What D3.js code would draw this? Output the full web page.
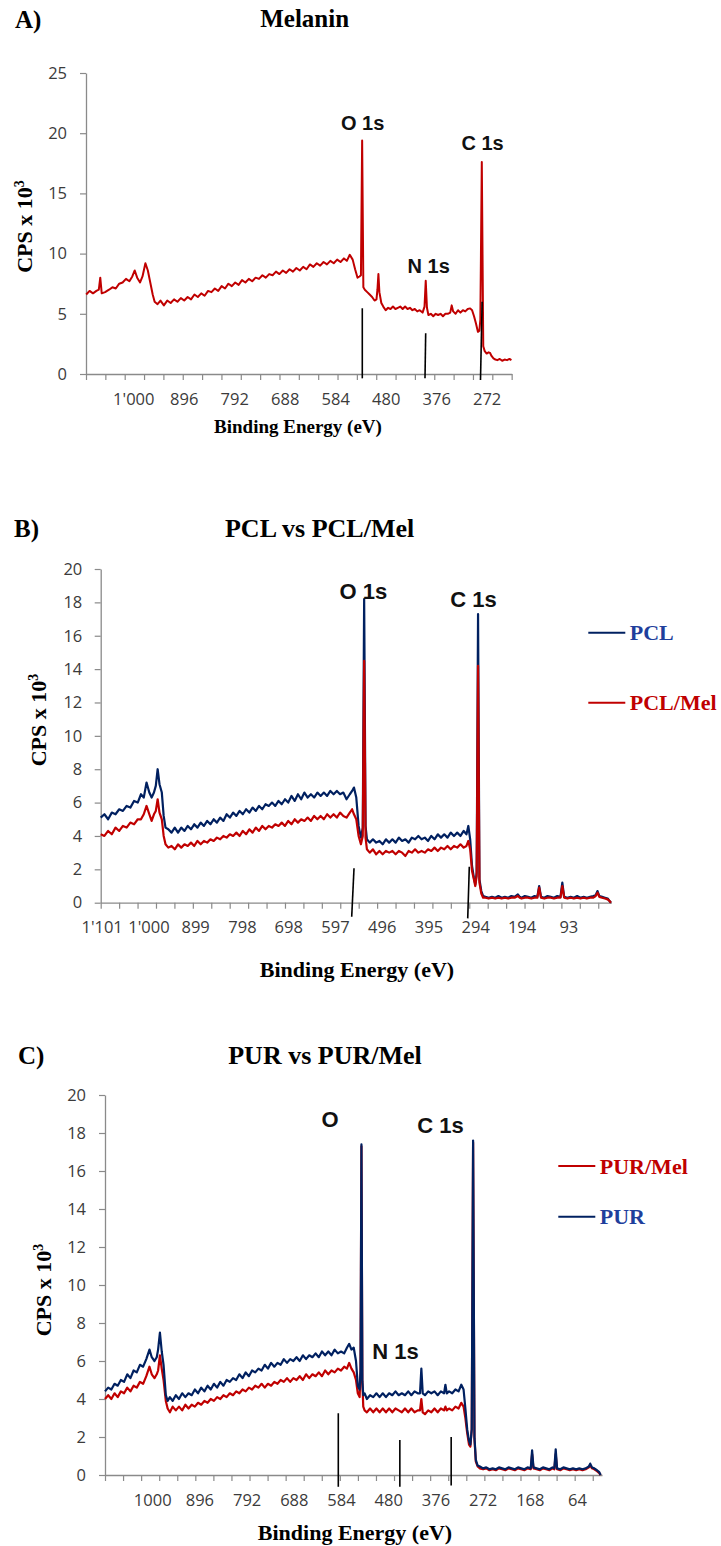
<!DOCTYPE html>
<html><head><meta charset="utf-8">
<script src="https://cdn.jsdelivr.net/npm/d3@7"></script>
<style>
body{margin:0;background:#fff;}
svg{display:block;}
</style></head><body>
<svg id="chart" width="721" height="1546"></svg>
<script>
// ---------------- DATA ----------------
// Panel A: Melanin survey spectrum (binding energy eV, CPS x 10^3)
const energyA = [
 1097,1090,1083,1076,1071,1068,1065,1058,1050,1043,
 1036,1029,1022,1015,1008,1002,997,992,986,981,
 975,970,965,960,956,950,944,937,930,923,
 916,909,902,895,888,881,874,867,860,853,
 846,839,832,825,818,811,804,797,790,783,
 776,769,762,755,748,741,734,727,720,713,
 706,699,692,685,678,671,664,657,650,643,
 636,629,622,615,608,601,594,587,580,573,
 566,560,554,548,543,538,534,531,528.5,526,
 523,518,513,508,503,499,497,495,493,489,
 485,480,475,470,465,460,455,450,445,440,
 435,430,425,420,415,410,404,400,397.5,395,
 392,387,382,377,372,367,362,357,352,347,
 344,341,336,331,326,321,316,311,306,302,
 298,294,290,287,285,282,279,276,272,268,
 265,262,258,254,250,245,240,235,230,225,
 221];
const melanin = [
 6.6,6.9,6.7,6.9,7.0,8.0,6.7,6.8,7.0,7.2,
 7.1,7.5,7.6,7.9,7.7,8.1,8.6,8.0,7.6,8.1,
 9.2,8.6,7.6,6.6,6.0,5.8,6.1,5.7,6.1,5.9,
 6.2,6.0,6.3,6.1,6.4,6.2,6.6,6.4,6.7,6.5,
 6.9,6.8,7.1,6.9,7.3,7.1,7.5,7.3,7.6,7.4,
 7.8,7.6,7.9,7.7,8.0,7.9,8.2,8.0,8.3,8.2,
 8.5,8.3,8.6,8.4,8.7,8.5,8.8,8.6,8.9,8.7,
 9.1,8.9,9.2,9.0,9.3,9.1,9.4,9.2,9.5,9.3,
 9.6,9.4,9.9,9.5,8.7,8.0,8.1,8.2,19.4,7.2,
 7.0,6.8,6.6,6.4,6.1,6.2,7.0,8.3,6.8,5.9,
 5.6,5.3,5.5,5.4,5.6,5.4,5.5,5.6,5.4,5.6,
 5.4,5.5,5.3,5.4,5.2,5.3,5.1,5.6,7.75,5.5,
 4.9,5.0,4.8,5.0,4.9,5.0,4.8,5.0,5.0,5.1,
 5.7,5.2,5.0,5.3,5.1,5.3,5.2,5.4,5.45,5.3,
 4.8,4.2,3.5,3.6,4.5,17.6,2.3,1.9,1.7,1.8,
 1.75,1.5,1.3,1.2,1.15,1.25,1.1,1.2,1.15,1.25,
 1.15];

// Panel B: PCL vs PCL/Mel
const energyB = [
 1103,1095,1087,1079,1071,1063,1055,1047,1039,1031,
 1023,1016,1010,1004,998,993,988,984,980,976,
 971,967,963,957,950,943,936,929,922,915,
 908,901,894,887,880,873,866,859,852,845,
 838,831,824,817,810,803,796,789,782,775,
 768,761,754,747,740,733,726,719,712,705,
 698,691,684,677,670,663,656,649,642,635,
 628,621,614,607,600,593,586,579,572,565,
 560,556,551,546,541,537,534,531,528,522,
 515,508,501,494,487,480,473,466,459,452,
 445,438,431,424,417,410,403,396,389,382,
 375,368,361,354,347,340,333,326,319,313,
 309,305,301,297,294,291,288,285,281,277,
 272,265,258,251,244,237,230,223,216,209,
 202,198,194,187,180,173,166,160,156,152,
 145,138,131,124,117,110,106,102,95,88,
 81,74,67,60,53,46,39,34,30,26,
 20,14,8,4,1];
const pcl = [
 5.1,5.3,5.0,5.4,5.3,5.6,5.5,5.8,5.7,6.1,
 6.0,6.5,6.3,7.2,6.6,6.3,6.6,7.0,8.0,7.1,
 6.6,5.2,4.5,4.4,4.2,4.5,4.2,4.5,4.3,4.6,
 4.4,4.7,4.5,4.8,4.6,4.9,4.7,5.0,4.8,5.1,
 4.9,5.3,5.1,5.4,5.2,5.5,5.3,5.6,5.4,5.7,
 5.5,5.8,5.6,5.9,5.8,6.0,5.8,6.1,5.9,6.2,
 6.0,6.4,6.1,6.5,6.2,6.6,6.3,6.5,6.3,6.6,
 6.4,6.6,6.4,6.7,6.5,6.7,6.5,6.6,6.2,6.5,
 6.7,6.9,6.3,4.6,3.9,4.5,18.2,4.6,3.8,3.6,
 3.8,3.6,3.7,3.5,3.8,3.6,3.8,3.6,3.9,3.7,
 3.8,3.6,3.9,3.8,4.0,3.8,3.9,3.7,4.0,3.8,
 4.1,3.9,4.1,3.9,4.2,4.0,4.2,4.0,4.3,4.1,
 4.6,3.8,2.2,1.5,1.1,1.8,17.3,1.4,0.7,0.4,
 0.35,0.3,0.35,0.3,0.4,0.3,0.35,0.3,0.4,0.35,
 0.5,0.35,0.3,0.4,0.35,0.3,0.4,0.35,1.0,0.35,
 0.3,0.4,0.35,0.3,0.4,0.35,1.2,0.35,0.3,0.35,
 0.3,0.4,0.3,0.35,0.3,0.35,0.4,0.45,0.7,0.4,
 0.35,0.3,0.25,0.1,0.0];
const pclMel = [
 4.1,4.0,4.3,4.1,4.5,4.3,4.6,4.5,4.8,4.7,
 5.0,5.0,5.3,5.8,5.3,4.9,5.3,5.5,6.2,5.4,
 5.0,4.0,3.5,3.3,3.4,3.2,3.5,3.3,3.5,3.4,
 3.6,3.4,3.7,3.5,3.7,3.6,3.8,3.7,3.9,3.8,
 4.0,3.9,4.1,4.0,4.2,4.0,4.3,4.1,4.4,4.2,
 4.5,4.3,4.6,4.4,4.6,4.5,4.7,4.6,4.8,4.6,
 4.9,4.7,5.0,4.8,5.0,4.9,5.1,4.9,5.2,5.0,
 5.2,5.0,5.3,5.1,5.3,5.1,5.4,5.2,5.1,5.4,
 5.6,5.3,5.0,4.0,3.5,4.0,14.5,3.9,3.2,3.0,
 3.2,2.9,3.1,2.9,3.1,3.0,3.1,2.9,3.1,3.0,
 2.8,3.1,3.0,3.2,3.0,3.1,3.0,3.2,3.1,3.3,
 3.1,3.3,3.2,3.4,3.2,3.4,3.3,3.5,3.3,3.4,
 3.7,3.2,1.9,1.4,1.0,1.6,14.2,1.2,0.55,0.3,
 0.3,0.25,0.3,0.25,0.3,0.25,0.3,0.25,0.3,0.3,
 0.4,0.3,0.25,0.3,0.3,0.25,0.3,0.3,0.9,0.3,
 0.25,0.3,0.3,0.25,0.3,0.3,1.0,0.3,0.25,0.3,
 0.25,0.3,0.25,0.3,0.25,0.3,0.3,0.4,0.6,0.35,
 0.3,0.25,0.2,0.1,0.0];

// Panel C: PUR vs PUR/Mel
const energyC = [
 1104,1097,1090,1083,1076,1069,1062,1055,1048,1041,
 1034,1027,1020,1013,1006,1001,995,990,987,983,
 979,975,970,966,961,955,948,941,934,927,
 920,913,906,899,892,885,878,871,864,857,
 850,843,836,829,822,815,808,801,794,787,
 780,773,766,759,752,745,738,731,724,717,
 710,703,696,689,682,675,668,661,654,647,
 640,633,626,619,612,605,598,591,584,577,
 571,566,561,556,551,547,543,541,539,537,
 535,532,527,520,513,506,499,492,485,478,
 471,464,457,450,443,436,429,422,415,410,
 407,404,399,392,385,378,371,364,357,354,
 351,346,339,332,325,319,314,310,306,302,
 299,296,293,290,287,283,278,271,264,257,
 250,243,236,229,222,215,208,201,194,187,
 180,173,166,163,160,153,146,139,132,125,
 118,114,111,108,101,94,87,80,73,66,
 59,52,45,38,35,31,26,20,15,12];
const pur = [
 4.4,4.6,4.5,4.8,4.7,5.0,4.9,5.3,5.1,5.5,
 5.4,5.8,5.7,6.1,6.6,6.2,6.0,6.2,6.6,7.5,
 6.5,5.8,4.2,3.9,4.1,3.9,4.2,4.0,4.3,4.1,
 4.3,4.2,4.5,4.3,4.6,4.4,4.7,4.5,4.8,4.6,
 4.9,4.7,5.0,4.9,5.1,5.0,5.3,5.1,5.4,5.2,
 5.5,5.4,5.6,5.5,5.8,5.6,5.9,5.7,5.9,5.8,
 6.1,5.9,6.1,6.0,6.2,6.0,6.3,6.1,6.3,6.2,
 6.4,6.2,6.5,6.3,6.5,6.3,6.6,6.4,6.5,6.4,
 6.7,6.9,6.6,6.7,6.0,4.7,4.5,5.5,17.4,5.0,
 4.2,4.3,4.0,4.2,4.1,4.3,4.1,4.3,4.1,4.3,
 4.2,4.4,4.2,4.3,4.2,4.4,4.2,4.4,4.3,4.3,
 5.6,4.3,4.2,4.4,4.3,4.4,4.2,4.4,4.3,4.75,
 4.3,4.4,4.3,4.5,4.4,4.75,4.5,3.5,2.4,1.8,
 1.6,2.4,17.6,2.0,0.8,0.5,0.45,0.35,0.4,0.3,
 0.35,0.3,0.4,0.35,0.3,0.4,0.35,0.3,0.4,0.35,
 0.3,0.4,0.35,1.3,0.4,0.35,0.3,0.4,0.35,0.3,
 0.4,0.35,1.35,0.35,0.3,0.4,0.35,0.3,0.35,0.3,
 0.35,0.3,0.35,0.45,0.6,0.4,0.35,0.25,0.15,0.0];
const purMel = [
 4.0,4.2,4.0,4.3,4.1,4.4,4.3,4.6,4.4,4.7,
 4.6,4.9,4.8,5.2,5.7,5.3,5.1,5.3,5.5,6.3,
 5.6,5.0,3.9,3.5,3.3,3.6,3.4,3.6,3.4,3.7,
 3.5,3.7,3.6,3.8,3.7,3.9,3.8,4.0,3.9,4.1,
 4.0,4.2,4.1,4.3,4.2,4.4,4.3,4.5,4.4,4.6,
 4.5,4.7,4.6,4.8,4.6,4.8,4.7,4.9,4.8,5.0,
 4.9,5.1,4.9,5.1,5.0,5.2,5.0,5.3,5.1,5.3,
 5.2,5.4,5.2,5.5,5.3,5.5,5.4,5.6,5.5,5.7,
 5.6,5.9,5.6,5.4,5.0,4.3,4.1,5.4,17.3,4.9,
 3.6,3.4,3.3,3.5,3.3,3.5,3.3,3.5,3.3,3.5,
 3.3,3.5,3.4,3.3,3.5,3.3,3.5,3.3,3.4,3.4,
 4.0,3.3,3.2,3.4,3.3,3.5,3.3,3.5,3.4,3.6,
 3.4,3.5,3.4,3.6,3.5,3.8,3.6,3.0,2.2,1.6,
 1.5,2.4,17.5,1.9,0.7,0.45,0.35,0.3,0.35,0.25,
 0.3,0.25,0.35,0.3,0.25,0.35,0.3,0.25,0.35,0.3,
 0.25,0.35,0.3,1.1,0.35,0.3,0.25,0.35,0.3,0.25,
 0.35,0.3,1.1,0.3,0.25,0.35,0.3,0.25,0.3,0.25,
 0.3,0.25,0.3,0.4,0.5,0.35,0.3,0.2,0.1,0.0];

// Axis tick labels
const xLabelsA = [1000, 896, 792, 688, 584, 480, 376, 272];
const xLabelsB = [1101, 1000, 899, 798, 698, 597, 496, 395, 294, 194, 93];
const xLabelsC = [1000, 896, 792, 688, 584, 480, 376, 272, 168, 64];
const yTicksA = [0, 5, 10, 15, 20, 25];
const yTicksB = [0, 2, 4, 6, 8, 10, 12, 14, 16, 18, 20];
const yTicksC = [0, 2, 4, 6, 8, 10, 12, 14, 16, 18, 20];

// Peak marker lines [E top, value top, E bottom, value bottom]
const markersA = [[528.2, 5.46, 528.2, -0.36], [397.6, 3.38, 399, -0.36], [281.3, 6.0, 284.7, -0.5]];
const markersB = [[555.9, 2.06, 560.9, -0.84], [306.9, 2.16, 310.3, -0.94]];
const markersC = [[590, 3.25, 590, -0.62], [454.4, 1.84, 454.4, -0.62], [341.3, 2.0, 341.3, -0.55]];

// Peak labels [text, E, value]
const peakLabelsA = [["O 1s", 527.5, 20.3], ["N 1s", 391.5, 8.35], ["C 1s", 280.5, 18.6]];
const peakLabelsB = [["O 1s", 535.5, 18.2], ["C 1s", 298, 17.75]];
const peakLabelsC = [["O", 608, 18.3], ["C 1s", 365, 18.0], ["N 1s", 464, 6.1]];

// ---------------- RENDER ----------------
[["A", energyA, melanin], ["B pcl", energyB, pcl], ["B mel", energyB, pclMel],
 ["C pur", energyC, pur], ["C mel", energyC, purMel]].forEach(([n, e, v]) => {
  if (e.length !== v.length) throw new Error(n + " length mismatch " + e.length + " vs " + v.length);
});

const svg = d3.select("#chart");
const RED = "#c00000", NAVY = "#002060", AXIS = "#8a8a8a";
const LEG_BLUE = "#1f3f9c";
const serif = "'Liberation Serif','Times New Roman',serif";
const sans = "'Liberation Sans',Arial,sans-serif";
const tickFont = "'Open Sans','Noto Sans',sans-serif";
const apos = d3.formatLocale({decimal: ".", thousands: "'", grouping: [3], currency: ["", ""]}).format(",d");
const plain = d3.format("d");

function panel(cfg) {
  const g = svg.append("g");
  const x = d3.scaleLinear().domain(cfg.xDomain).range(cfg.xRange);
  const y = d3.scaleLinear().domain(cfg.yDomain).range(cfg.yRange);
  const y0 = y(0);

  // x tick marks
  const d0 = cfg.xDomain[0];
  const marks = d3.range(cfg.tickCount + 1).map(i => d0 - i * cfg.tickStep);
  const gx = g.append("g").attr("transform", `translate(0,${y0})`)
    .call(d3.axisBottom(x).tickValues(marks).tickFormat("").tickSize(6).tickSizeOuter(0));
  gx.select(".domain").attr("stroke", AXIS).attr("stroke-width", 1.3);
  gx.selectAll(".tick line").attr("stroke", AXIS).attr("stroke-width", 1.2);

  // x labels
  const gl = g.append("g").attr("transform", `translate(0,${y0})`)
    .call(d3.axisBottom(x).tickValues(cfg.xLabels).tickFormat(cfg.fmt).tickSize(0).tickPadding(19));
  gl.select(".domain").remove();
  gl.selectAll("text").attr("font-family", tickFont).attr("font-size", 16.5).attr("fill", "#3b3b3b");

  // y axis
  const gy = g.append("g").attr("transform", `translate(${cfg.xRange[0]},0)`)
    .call(d3.axisLeft(y).tickValues(cfg.yTicks).tickSize(6).tickPadding(cfg.yPad).tickSizeOuter(0));
  gy.select(".domain").attr("stroke", AXIS).attr("stroke-width", 1.3);
  gy.selectAll(".tick line").attr("stroke", AXIS).attr("stroke-width", 1.2);
  gy.selectAll("text").attr("font-family", tickFont).attr("font-size", 16.5).attr("fill", "#3b3b3b");

  // series
  const line = d3.line().x(d => x(d[0])).y(d => y(d[1]));
  cfg.series.forEach(s => {
    g.append("path").datum(d3.zip(s.e, s.v)).attr("d", line)
      .attr("fill", "none").attr("stroke", s.color).attr("stroke-width", cfg.lineWidth)
      .attr("stroke-linejoin", "round");
  });

  // marker lines
  g.selectAll(null).data(cfg.markers).join("line")
    .attr("x1", d => x(d[0])).attr("y1", d => y(d[1]))
    .attr("x2", d => x(d[2])).attr("y2", d => y(d[3]))
    .attr("stroke", "#000").attr("stroke-width", 1.6);

  // peak labels
  g.selectAll(null).data(cfg.peakLabels).join("text")
    .attr("x", d => x(d[1])).attr("y", d => y(d[2]))
    .attr("text-anchor", "middle").attr("font-family", sans).attr("font-weight", "bold")
    .attr("font-size", cfg.peakSize).attr("fill", "#111").text(d => d[0]);

  // panel letter and title
  g.append("text").attr("x", cfg.letterPos[0]).attr("y", cfg.letterPos[1])
    .attr("font-family", serif).attr("font-weight", "bold").attr("font-size", 25).text(cfg.letter);
  g.append("text").attr("x", cfg.titlePos[0]).attr("y", cfg.titlePos[1]).attr("text-anchor", "middle")
    .attr("font-family", serif).attr("font-weight", "bold").attr("font-size", cfg.titleSize).text(cfg.title);

  // y title
  const yt = g.append("text").attr("transform", `translate(${cfg.yTitlePos[0]},${cfg.yTitlePos[1]}) rotate(-90)`)
    .attr("text-anchor", "middle").attr("font-family", serif).attr("font-weight", "bold").attr("font-size", 22);
  yt.append("tspan").text("CPS x 10");
  yt.append("tspan").attr("font-size", 14).attr("dy", -8).text("3");

  // x title
  g.append("text").attr("x", cfg.xTitlePos[0]).attr("y", cfg.xTitlePos[1]).attr("text-anchor", "middle")
    .attr("font-family", serif).attr("font-weight", "bold").attr("font-size", cfg.xTitleSize)
    .text("Binding Energy (eV)");

  // legend
  (cfg.legend || []).forEach(l => {
    g.append("line").attr("x1", l.x).attr("x2", l.x + 37).attr("y1", l.y).attr("y2", l.y)
      .attr("stroke", l.line).attr("stroke-width", 2);
    g.append("text").attr("x", l.x + 41.5).attr("y", l.y + 7.5)
      .attr("font-family", serif).attr("font-weight", "bold").attr("font-size", 22)
      .attr("fill", l.text).text(l.label);
  });
}

panel({
  xDomain: [1097.4, 220.4], xRange: [86, 511.7], yDomain: [0, 25], yRange: [374, 73],
  tickCount: 22, tickStep: 39.86, xLabels: xLabelsA, fmt: apos, yTicks: yTicksA, yPad: 13,
  series: [{e: energyA, v: melanin, color: RED}], lineWidth: 2,
  markers: markersA, peakLabels: peakLabelsA, peakSize: 20,
  letter: "A)", letterPos: [15, 28], title: "Melanin", titlePos: [304.7, 27], titleSize: 25,
  yTitlePos: [31.5, 226.5], xTitlePos: [298, 433], xTitleSize: 19
});

panel({
  xDomain: [1103, 0], xRange: [100.7, 611.4], yDomain: [0, 20], yRange: [902.7, 569],
  tickCount: 27, tickStep: 39.8, xLabels: xLabelsB, fmt: apos, yTicks: yTicksB, yPad: 12.4,
  series: [{e: energyB, v: pcl, color: NAVY}, {e: energyB, v: pclMel, color: RED}], lineWidth: 2.2,
  markers: markersB, peakLabels: peakLabelsB, peakSize: 22,
  letter: "B)", letterPos: [14, 537], title: "PCL vs PCL/Mel", titlePos: [319.6, 537], titleSize: 26,
  yTitlePos: [46, 720], xTitlePos: [357, 977], xTitleSize: 22,
  legend: [{x: 588.3, y: 632.7, line: NAVY, text: LEG_BLUE, label: "PCL"},
           {x: 588.3, y: 702.7, line: RED, text: RED, label: "PCL/Mel"}]
});

panel({
  xDomain: [1104, 9], xRange: [105, 602], yDomain: [0, 20], yRange: [1475, 1095],
  tickCount: 27, tickStep: 39.8, xLabels: xLabelsC, fmt: plain, yTicks: yTicksC, yPad: 13,
  series: [{e: energyC, v: purMel, color: RED}, {e: energyC, v: pur, color: NAVY}], lineWidth: 2.2,
  markers: markersC, peakLabels: peakLabelsC, peakSize: 22,
  letter: "C)", letterPos: [18, 1064], title: "PUR vs PUR/Mel", titlePos: [325, 1064], titleSize: 26,
  yTitlePos: [50.5, 1290], xTitlePos: [355, 1540], xTitleSize: 22,
  legend: [{x: 558.3, y: 1166, line: RED, text: RED, label: "PUR/Mel"},
           {x: 558.3, y: 1216.7, line: NAVY, text: LEG_BLUE, label: "PUR"}]
});
</script></body></html>
